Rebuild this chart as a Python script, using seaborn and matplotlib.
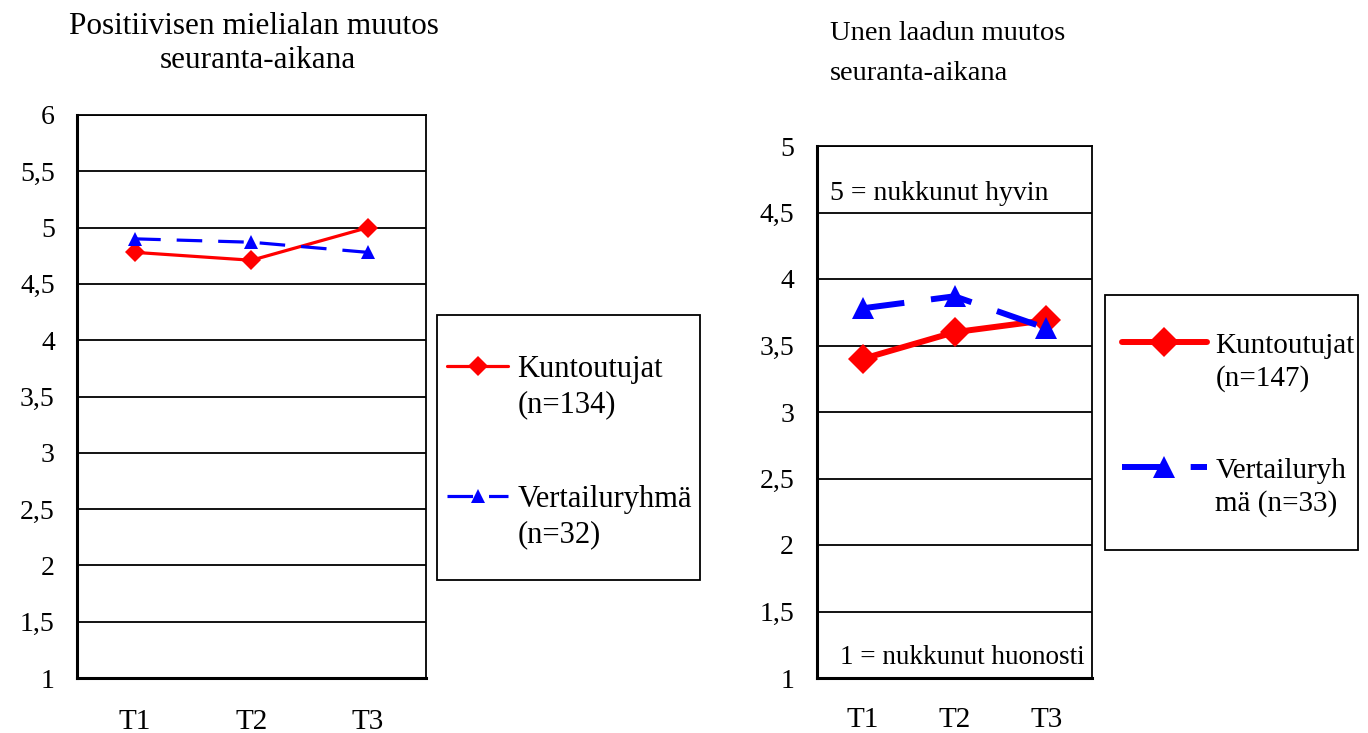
import matplotlib
matplotlib.use("Agg")
import matplotlib.pyplot as plt
from matplotlib.patches import Rectangle
from matplotlib.lines import Line2D
from matplotlib.legend_handler import HandlerLine2D
import seaborn as sns
import pandas as pd

sns.set_theme(style="white")
plt.rcParams['font.family'] = ['Liberation Serif', 'DejaVu Serif']
plt.rcParams['text.color'] = 'black'
plt.rcParams['xtick.color'] = 'black'
plt.rcParams['ytick.color'] = 'black'
plt.rcParams['axes.labelcolor'] = 'black'

times = ["T1", "T2", "T3"]
mood_kuntoutujat = [4.78, 4.71, 5.00]
mood_vertailu = [4.90, 4.87, 4.78]
sleep_kuntoutujat = [3.40, 3.60, 3.69]
sleep_vertailu = [3.78, 3.87, 3.63]

left_labels = ["Kuntoutujat\n(n=134)", "Vertailuryhmä\n(n=32)"]
right_labels = ["Kuntoutujat\n(n=147)", "Vertailuryh\nmä (n=33)"]

left_yticks = [1, 1.5, 2, 2.5, 3, 3.5, 4, 4.5, 5, 5.5, 6]
right_yticks = [1, 1.5, 2, 2.5, 3, 3.5, 4, 4.5, 5]

W, H = 1368, 733


class ShiftedHandler(HandlerLine2D):
    """Line handler drawn level with the first text line."""
    def __init__(self, shift, **kw):
        super().__init__(**kw)
        self.shift = shift

    def create_artists(self, legend, orig_handle, xdescent, ydescent,
                       width, height, fontsize, trans):
        return super().create_artists(legend, orig_handle, xdescent,
                                      ydescent - 2 * self.shift * fontsize,
                                      width, height, fontsize, trans)


def fmt(v):
    return ("%g" % v).replace(".", ",")

fig = plt.figure(figsize=(13.68, 7.33), dpi=100)
axL = fig.add_axes([77/W, 1-678/H, (426-77)/W, (678-115)/H])
axR = fig.add_axes([817/W, 1-678/H, (1092-817)/W, (678-146)/H])

def draw(ax, kunt, vert, labels, lw, ms_d, ms_t, dash, yticks, ytick_len, ytick_pad,
         xpad, leg_anchor, leg_fs, handlelen, labelspacing, box, shift):
    df = pd.DataFrame({"time": times * 2,
                       "value": kunt + vert,
                       "group": [labels[0]] * 3 + [labels[1]] * 3})
    sns.lineplot(data=df, x="time", y="value", hue="group", style="group",
                 palette={labels[0]: "#ff0000", labels[1]: "#0000ff"},
                 markers={labels[0]: "D", labels[1]: "^"},
                 dashes={labels[0]: "", labels[1]: dash},
                 linewidth=lw, markersize=ms_d, markeredgewidth=0,
                 ax=ax, sort=False, zorder=5)
    for line in ax.get_lines():
        if line.get_marker() == "^":
            line.set_markersize(ms_t)
    ax.set_xlim(-0.5, 2.5)
    ax.set_ylim(yticks[0], yticks[-1])
    ax.set_yticks(yticks)
    ax.set_yticklabels([fmt(v) for v in yticks], fontsize=20)
    ax.set_xticks([0, 1, 2])
    ax.set_xticklabels(times, fontsize=21)
    ax.set_xticks([-0.5, 0.5, 1.5, 2.5], minor=True)
    ax.tick_params(axis="x", which="major", length=0, pad=xpad, labelcolor="black")
    ax.tick_params(axis="x", which="minor", length=9, width=1.5, color="black", direction="out")
    ax.tick_params(axis="y", which="major", length=ytick_len, width=1.5, color="black",
                   direction="out", pad=ytick_pad, labelcolor="black")
    ax.set_xlabel("")
    ax.set_ylabel("")
    ax.grid(axis="y", color="black", linewidth=1.3)
    ax.grid(axis="x", visible=False)
    for sp in ax.spines.values():
        sp.set_color("black")
        sp.set_linewidth(1.3)
    ax.spines["left"].set_linewidth(2.2)
    ax.spines["bottom"].set_linewidth(2.2)
    h, l = ax.get_legend_handles_labels()
    leg = ax.legend(h, l, loc="center left", bbox_to_anchor=leg_anchor,
                    bbox_transform=fig.transFigure, frameon=False,
                    fontsize=leg_fs, handlelength=handlelen, labelspacing=labelspacing,
                    borderpad=0, handletextpad=0.3, borderaxespad=0,
                    labelcolor="black",
                    handler_map={Line2D: ShiftedHandler(shift)})
    for t in leg.get_texts():
        t.set_linespacing(1.3)
    x0, y0, x1, y1 = box
    fig.patches.append(Rectangle((x0/W, 1-y1/H), (x1-x0)/W, (y1-y0)/H,
                                 transform=fig.transFigure, fill=False,
                                 edgecolor="black", linewidth=1.3))

draw(axL, mood_kuntoutujat, mood_vertailu, left_labels, 2.3, 10, 10, (8, 5),
     left_yticks, 9, 7, 22, (447/W, 1-452/H), 22, 2.0, 2.15, (437, 315, 700, 580), 0.7)
draw(axR, sleep_kuntoutujat, sleep_vertailu, right_labels, 4.3, 15, 16, (7, 4.5),
     right_yticks, 6.5, 10, 21, (1122/W, 1-425/H), 21, 2.9, 2.24, (1105, 295, 1358, 550), 0.7)

fig.text(254/W, 1-27/H, "Positiivisen mielialan muutos", ha="center", va="center",
         fontsize=22.5, color="black")
fig.text(258/W, 1-61/H, "seuranta-aikana", ha="center", va="center",
         fontsize=22.5, color="black")
fig.text(830/W, 1-33/H, "Unen laadun muutos", ha="left", va="center",
         fontsize=20.5, color="black")
fig.text(830/W, 1-73/H, "seuranta-aikana", ha="left", va="center",
         fontsize=20.5, color="black")

axR.text(13/275, 1-(193-146)/532, "5 = nukkunut hyvin", transform=axR.transAxes,
         ha="left", va="center", fontsize=20, color="black")
axR.text(1-(1092-1085)/275, (678-658)/532, "1 = nukkunut huonosti", transform=axR.transAxes,
         ha="right", va="center", fontsize=19.5, color="black")

fig.savefig("out.png", dpi=100)
